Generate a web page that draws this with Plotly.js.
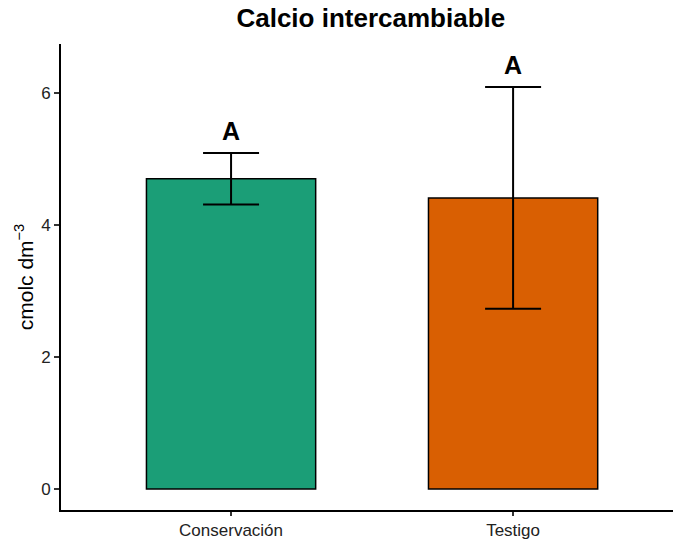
<!DOCTYPE html>
<html>
<head>
<meta charset="utf-8">
<script src="https://cdn.plot.ly/plotly-3.0.1.min.js"></script>
<style>html,body{margin:0;padding:0;background:#fff;}#chart{width:673px;height:540px;}</style>
</head>
<body>
<div id="chart"></div>
<script>
const categories = ["Conservación", "Testigo"];
const means = [4.70, 4.41];
const upper = [5.09, 6.09];
const lower = [4.31, 2.73];
const letters = ["A", "A"];
const colors = ["#1B9E77", "#D95F02"];
const yTicks = [0, 2, 4, 6];

const errPlus = means.map((m, i) => upper[i] - m);
const errMinus = means.map((m, i) => m - lower[i]);

const trace = {
  type: "bar",
  x: categories,
  y: means,
  width: 0.6,
  marker: {color: colors, line: {color: "#000", width: 1.5}},
  error_y: {type: "data", symmetric: false, array: errPlus, arrayminus: errMinus,
            color: "#000", thickness: 2, width: 28},
  hoverinfo: "none"
};

const annotations = categories.map((c, i) => ({
  x: c, y: upper[i], xref: "x", yref: "y",
  text: "<b>" + letters[i] + "</b>", showarrow: false,
  yanchor: "bottom", yshift: 6,
  font: {family: "Liberation Sans, Arial, sans-serif", size: 25, color: "#000"}
}));

const layout = {
  width: 673, height: 540,
  margin: {l: 61, r: 0, t: 44, b: 30},
  paper_bgcolor: "#fff", plot_bgcolor: "#fff",
  font: {family: "Liberation Sans, Arial, sans-serif"},
  title: {text: "<b>Calcio intercambiable</b>", x: 0.551, xanchor: "center", y: 0.967, yanchor: "middle",
          font: {size: 26, color: "#000", family: "Liberation Sans, Arial, sans-serif"}},
  xaxis: {
    type: "category", range: [-0.603, 1.567],
    showline: true, linecolor: "#000", linewidth: 2,
    ticks: "outside", ticklen: 4, tickwidth: 1.5, tickcolor: "#333",
    tickfont: {size: 17, color: "#222"}, showgrid: false, zeroline: false
  },
  yaxis: {
    range: [-0.318, 6.742],
    tickvals: yTicks, ticktext: yTicks.map(String),
    showline: true, linecolor: "#000", linewidth: 2,
    ticks: "outside", ticklen: 5, tickwidth: 1.5, tickcolor: "#333",
    tickfont: {size: 17, color: "#222"}, showgrid: false, zeroline: false,
    title: {text: "cmolc dm<sup>−3</sup>", standoff: 2, font: {size: 21, color: "#000"}}
  },
  annotations: annotations,
  showlegend: false,
  bargap: 0
};

Plotly.newPlot("chart", [trace], layout, {displayModeBar: false, staticPlot: true});
</script>
</body>
</html>
